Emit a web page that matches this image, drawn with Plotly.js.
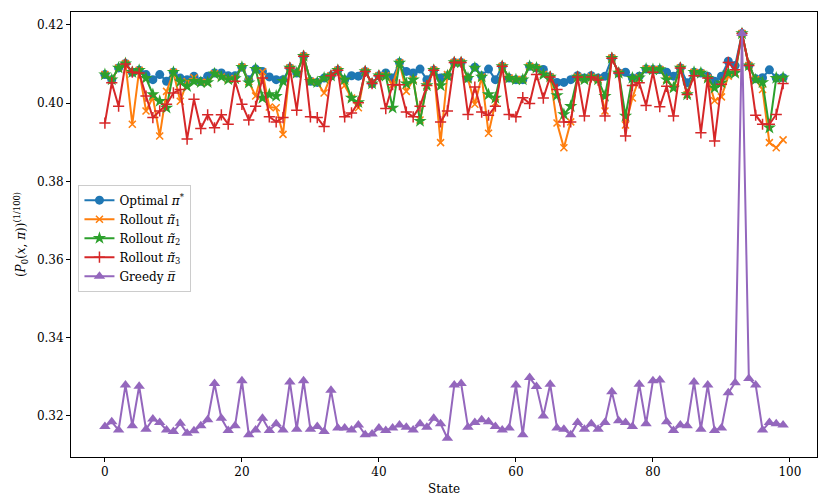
<!DOCTYPE html>
<html>
<head>
<meta charset="utf-8">
<script src="https://cdn.plot.ly/plotly-3.0.1.min.js"></script>
<style>
  html, body { margin: 0; padding: 0; background: #fff; }
  #chart { width: 830px; height: 498px; }
</style>
</head>
<body>
<div id="chart"></div>
<script>
// ── Data ────────────────────────────────────────────────────────────────────
const states = Array.from({ length: 100 }, (_, i) => i);

const optimal = [
  0.4073, 0.4060, 0.4090, 0.4101, 0.4079, 0.4084, 0.4073, 0.4060, 0.4073, 0.4056,
  0.4079, 0.4064, 0.4060, 0.4069, 0.4056, 0.4069, 0.4077, 0.4077, 0.4070, 0.4070,
  0.4092, 0.4060, 0.4087, 0.4081, 0.4067, 0.4060, 0.4060, 0.4090, 0.4077, 0.4120,
  0.4056, 0.4053, 0.4064, 0.4070, 0.4084, 0.4060, 0.4070, 0.4069, 0.4081, 0.4050,
  0.4070, 0.4077, 0.4064, 0.4104, 0.4081, 0.4077, 0.4087, 0.4060, 0.4084, 0.4064,
  0.4070, 0.4104, 0.4104, 0.4064, 0.4092, 0.4070, 0.4087, 0.4060, 0.4094, 0.4064,
  0.4060, 0.4060, 0.4094, 0.4090, 0.4086, 0.4067, 0.4053, 0.4053, 0.4060, 0.4070,
  0.4064, 0.4070, 0.4064, 0.4069, 0.4115, 0.4077, 0.4079, 0.4064, 0.4069, 0.4087,
  0.4086, 0.4086, 0.4079, 0.4069, 0.4090, 0.4052, 0.4079, 0.4077, 0.4069, 0.4056,
  0.4069, 0.4107, 0.4096, 0.4178, 0.4096, 0.4062, 0.4065, 0.4085, 0.4064, 0.4065
];

const rollout1 = [
  0.4073, 0.4060, 0.4090, 0.4101, 0.3946, 0.4084, 0.3980, 0.4015, 0.3916, 0.4030,
  0.4079, 0.4005, 0.4055, 0.4065, 0.4053, 0.4053, 0.4075, 0.4067, 0.4060, 0.4063,
  0.4092, 0.4055, 0.4018, 0.4080, 0.3990, 0.3988, 0.3920, 0.4090, 0.4077, 0.4120,
  0.4056, 0.4053, 0.4026, 0.4070, 0.4084, 0.4045, 0.4013, 0.3988, 0.4081, 0.4050,
  0.4070, 0.4070, 0.4047, 0.4103, 0.4030, 0.4060, 0.3957, 0.4045, 0.4084, 0.3899,
  0.4073, 0.4104, 0.4104, 0.4062, 0.3997, 0.4067, 0.3923, 0.4001, 0.4094, 0.4064,
  0.4060, 0.4060, 0.4094, 0.4090, 0.4073, 0.4067, 0.3949, 0.3886, 0.3952, 0.4067,
  0.4060, 0.4067, 0.4060, 0.3980, 0.4115, 0.4077, 0.3944, 0.4013, 0.4065, 0.4087,
  0.4086, 0.4086, 0.4060, 0.4039, 0.4090, 0.4022, 0.4079, 0.4077, 0.4064, 0.4006,
  0.4016, 0.4069, 0.4077, 0.4178, 0.4096, 0.4060, 0.4035, 0.3899, 0.3886, 0.3906
];

const rollout2 = [
  0.4073, 0.4060, 0.4090, 0.4101, 0.4079, 0.4084, 0.4064, 0.4022, 0.4005, 0.3988,
  0.4079, 0.4055, 0.4043, 0.4056, 0.4053, 0.4053, 0.4075, 0.4067, 0.4060, 0.4063,
  0.4092, 0.4052, 0.4087, 0.4013, 0.4022, 0.4018, 0.4056, 0.4090, 0.4077, 0.4120,
  0.4056, 0.4053, 0.4064, 0.4070, 0.4084, 0.4060, 0.4013, 0.4002, 0.4081, 0.4050,
  0.4070, 0.4070, 0.3988, 0.4103, 0.4050, 0.4060, 0.3954, 0.4045, 0.4084, 0.4045,
  0.4070, 0.4104, 0.4104, 0.4064, 0.4090, 0.4067, 0.4022, 0.4013, 0.4094, 0.4064,
  0.4060, 0.4060, 0.4094, 0.4090, 0.4073, 0.4067, 0.4020, 0.3971, 0.3992, 0.4067,
  0.4060, 0.4067, 0.4060, 0.4018, 0.4115, 0.4077, 0.3967, 0.4064, 0.4065, 0.4087,
  0.4086, 0.4086, 0.4060, 0.4039, 0.4090, 0.4022, 0.4079, 0.4077, 0.4064, 0.4039,
  0.4052, 0.4077, 0.4077, 0.4178, 0.4096, 0.4060, 0.4053, 0.3937, 0.4064, 0.4065
];

const rollout3 = [
  0.3949, 0.4052, 0.3992, 0.4100, 0.4079, 0.4077, 0.4018, 0.3963, 0.3980, 0.3997,
  0.4026, 0.4035, 0.3908, 0.4010, 0.3935, 0.3970, 0.3937, 0.3970, 0.3946, 0.4056,
  0.3997, 0.3957, 0.3992, 0.4064, 0.3965, 0.3952, 0.3963, 0.4090, 0.3982, 0.4120,
  0.3965, 0.3963, 0.3940, 0.4070, 0.4084, 0.3965, 0.3975, 0.4001, 0.4081, 0.4050,
  0.4070, 0.3986, 0.4047, 0.4047, 0.3977, 0.3965, 0.3992, 0.4045, 0.4084, 0.3952,
  0.3980, 0.4104, 0.4104, 0.3971, 0.4041, 0.3977, 0.3969, 0.3992, 0.4094, 0.3971,
  0.3965, 0.4014, 0.3999, 0.4073, 0.4013, 0.4067, 0.4035, 0.3952, 0.3952, 0.4067,
  0.3967, 0.4067, 0.4059, 0.3967, 0.4115, 0.4077, 0.3916, 0.4045, 0.4052, 0.3994,
  0.4079, 0.3991, 0.4043, 0.3967, 0.4090, 0.4022, 0.4070, 0.3924, 0.4064, 0.3903,
  0.4048, 0.4104, 0.4085, 0.4178, 0.4096, 0.3969, 0.3946, 0.3946, 0.3971, 0.4050
];

const greedy = [
  0.3173, 0.3185, 0.3164, 0.3279, 0.3175, 0.3276, 0.3166, 0.3192, 0.3183, 0.3164,
  0.3160, 0.3181, 0.3156, 0.3162, 0.3175, 0.3190, 0.3283, 0.3194, 0.3163, 0.3175,
  0.3290, 0.3152, 0.3164, 0.3194, 0.3163, 0.3180, 0.3164, 0.3287, 0.3166, 0.3290,
  0.3166, 0.3173, 0.3160, 0.3266, 0.3169, 0.3169, 0.3164, 0.3177, 0.3152, 0.3154,
  0.3169, 0.3163, 0.3169, 0.3177, 0.3171, 0.3164, 0.3180, 0.3171, 0.3194, 0.3180,
  0.3143, 0.3279, 0.3283, 0.3171, 0.3183, 0.3190, 0.3185, 0.3173, 0.3164, 0.3169,
  0.3279, 0.3152, 0.3298, 0.3275, 0.3200, 0.3281, 0.3169, 0.3166, 0.3152, 0.3183,
  0.3166, 0.3180, 0.3166, 0.3183, 0.3262, 0.3188, 0.3183, 0.3173, 0.3281, 0.3180,
  0.3290, 0.3292, 0.3185, 0.3163, 0.3177, 0.3175, 0.3287, 0.3166, 0.3279, 0.3163,
  0.3169, 0.3259, 0.3285, 0.4178, 0.3296, 0.3279, 0.3164, 0.3183, 0.3180, 0.3177
];

const xTicks = [0, 20, 40, 60, 80, 100];
const yTicks = [0.32, 0.34, 0.36, 0.38, 0.40, 0.42];

// ── Traces ──────────────────────────────────────────────────────────────────
const FONT = "'DejaVu Serif', 'Liberation Serif', serif";

function series(name, y, color, symbol, size, thin) {
  const marker = { color: color, symbol: symbol, size: size };
  if (thin) marker.line = { color: color, width: 1.5 };
  return {
    x: states, y: y, name: name,
    type: 'scatter', mode: 'lines+markers',
    line: { color: color, width: 2 },
    marker: marker,
  };
}

const traces = [
  series('Optimal <i>π</i><sup>*</sup>', optimal, '#1f77b4', 'circle', 9, false),
  series('Rollout <i>π̃</i><sub>1</sub>', rollout1, '#ff7f0e', 'x-thin', 7, true),
  series('Rollout <i>π̃</i><sub>2</sub>', rollout2, '#2ca02c', 'star', 10, false),
  series('Rollout <i>π̃</i><sub>3</sub>', rollout3, '#d62728', 'cross-thin', 8, true),
  series('Greedy <i>π̅</i>', greedy, '#9467bd', 'triangle-up', 10, false),
];

// ── Layout ──────────────────────────────────────────────────────────────────
const axisCommon = {
  showgrid: false,
  zeroline: false,
  showline: true,
  mirror: true,
  linecolor: '#000',
  linewidth: 1,
  ticks: 'outside',
  ticklen: 4,
  tickwidth: 1,
  tickcolor: '#000',
  tickfont: { family: FONT, size: 12, color: '#000' },
};

const layout = {
  width: 830,
  height: 498,
  paper_bgcolor: '#fff',
  plot_bgcolor: '#fff',
  font: { family: FONT, size: 12, color: '#000' },
  margin: { l: 71, r: 13, t: 12, b: 41, pad: 0 },
  showlegend: true,
  legend: {
    x: 0.01, y: 0.612, xanchor: 'left', yanchor: 'top',
    bgcolor: 'rgba(255,255,255,0.8)',
    bordercolor: '#cccccc',
    borderwidth: 1,
    font: { family: FONT, size: 12, color: '#000' },
    tracegroupgap: 0,
    itemwidth: 30,
  },
  xaxis: Object.assign({}, axisCommon, {
    range: [-4.95, 103.95],
    tickvals: xTicks,
    ticktext: xTicks.map(String),
    title: { text: 'State', standoff: 6, font: { family: FONT, size: 12, color: '#000' } },
  }),
  yaxis: Object.assign({}, axisCommon, {
    range: [0.3095, 0.4233],
    tickvals: yTicks,
    ticktext: yTicks.map(v => v.toFixed(2)),
    title: {
      text: '(<i>P</i><sub>0</sub>(<i>x</i>, <i>π</i>))<sup>(1/100)</sup>',
      standoff: 8,
      font: { family: FONT, size: 12, color: '#000' },
    },
  }),
};

Plotly.newPlot('chart', traces, layout, { displayModeBar: false, staticPlot: true });
</script>
</body>
</html>
